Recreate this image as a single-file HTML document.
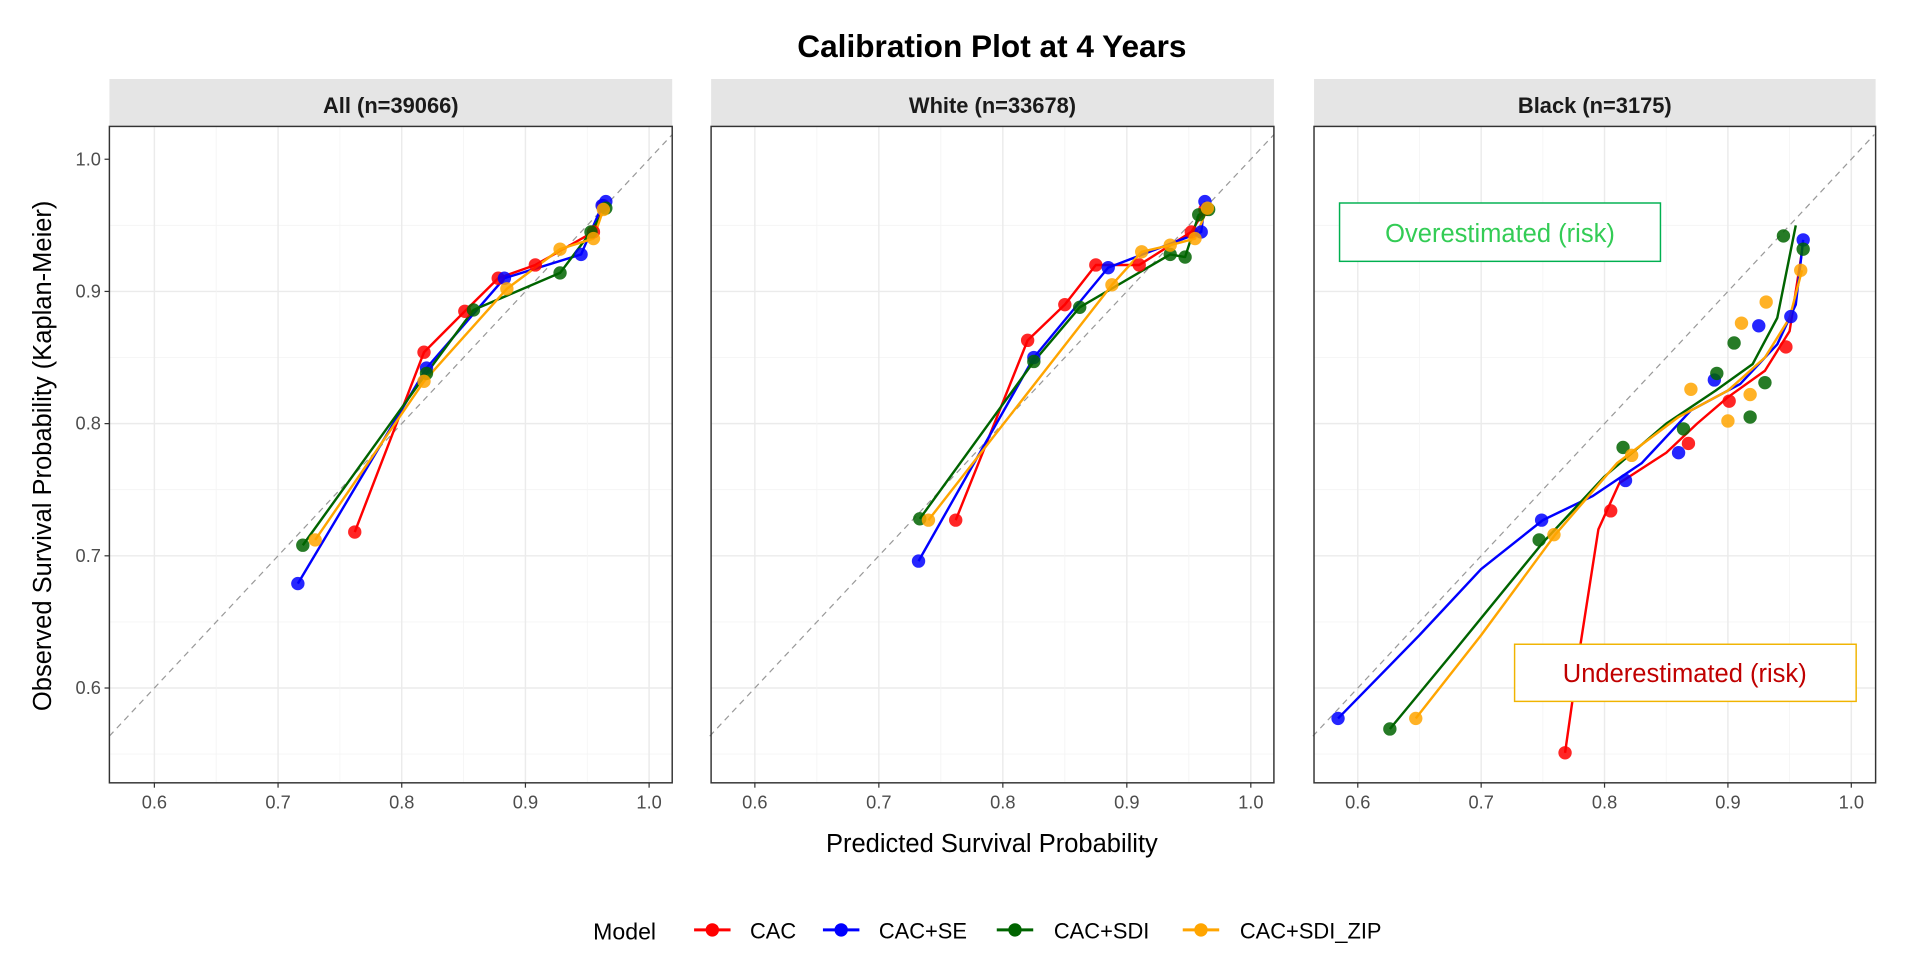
<!DOCTYPE html>
<html><head><meta charset="utf-8">
<style>
html,body{margin:0;padding:0;background:#fff;}
svg{display:block;font-family:"Liberation Sans",Arial,sans-serif;}
</style></head>
<body>
<svg id="c" width="1906" height="962" viewBox="0 0 1568 791.4" preserveAspectRatio="none" xmlns="http://www.w3.org/2000/svg">
<rect width="1568" height="792" fill="#fff"/>
<text x="816" y="47" text-anchor="middle" font-size="26" font-weight="bold" fill="#000">Calibration Plot at 4 Years</text>
<g id="panels"></g>
<text x="816" y="701" text-anchor="middle" font-size="21" fill="#000">Predicted Survival Probability</text>
<text transform="translate(42,375) rotate(-90)" text-anchor="middle" font-size="21" fill="#000">Observed Survival Probability (Kaplan-Meier)</text>
<g font-size="19" fill="#000">
<text x="488" y="773">Model</text>
<line x1="571" y1="765" x2="601" y2="765" stroke="#ff0000" stroke-width="2.5"/><circle cx="586" cy="765" r="5.5" fill="#ff0000"/>
<text x="617" y="772" font-size="18">CAC</text>
<line x1="677" y1="765" x2="707" y2="765" stroke="#0000ff" stroke-width="2.5"/><circle cx="692" cy="765" r="5.5" fill="#0000ff"/>
<text x="723" y="772" font-size="18">CAC+SE</text>
<line x1="820" y1="765" x2="850" y2="765" stroke="#006400" stroke-width="2.5"/><circle cx="835" cy="765" r="5.5" fill="#006400"/>
<text x="867" y="772" font-size="18">CAC+SDI</text>
<line x1="973" y1="765" x2="1003" y2="765" stroke="#ffa500" stroke-width="2.5"/><circle cx="988" cy="765" r="5.5" fill="#ffa500"/>
<text x="1020" y="772" font-size="18">CAC+SDI_ZIP</text>
</g>
</svg>
<script>
var NS="http://www.w3.org/2000/svg";
var G=document.getElementById("panels");
function el(t,a,p){var e=document.createElementNS(NS,t);for(var k in a)e.setAttribute(k,a[k]);(p||G).appendChild(e);return e;}
var panels=[
 {L:90,R:553,x06:127,x10:534,title:"All (n=39066)",yax:true,
  data:{
   "#ff0000":[[0.762,0.718],[0.818,0.854],[0.851,0.885],[0.878,0.910],[0.908,0.920],[0.955,0.945],[0.963,0.965]],
   "#0000ff":[[0.716,0.679],[0.82,0.842],[0.883,0.910],[0.945,0.928],[0.962,0.965],[0.965,0.968]],
   "#006400":[[0.72,0.708],[0.82,0.838],[0.858,0.886],[0.928,0.914],[0.953,0.945],[0.965,0.963]],
   "#ffa500":[[0.73,0.712],[0.818,0.832],[0.885,0.902],[0.928,0.932],[0.955,0.94],[0.963,0.962]]}},
 {L:585,R:1048,x06:621,x10:1029,title:"White (n=33678)",
  data:{
   "#ff0000":[[0.762,0.727],[0.82,0.863],[0.85,0.89],[0.875,0.92],[0.91,0.92],[0.952,0.945],[0.963,0.962]],
   "#0000ff":[[0.732,0.696],[0.825,0.85],[0.885,0.918],[0.96,0.945],[0.963,0.968]],
   "#006400":[[0.733,0.728],[0.825,0.847],[0.862,0.888],[0.935,0.928],[0.947,0.926],[0.958,0.958],[0.966,0.962]],
   "#ffa500":[[0.74,0.727],[0.888,0.905],[0.912,0.93],[0.935,0.935],[0.955,0.94],[0.965,0.963]]}},
 {L:1081,R:1543,x06:1117,x10:1523,title:"Black (n=3175)",ann:true,
  data:{
   "#ff0000":[[0.768,0.551],[0.805,0.734],[0.868,0.785],[0.901,0.817],[0.947,0.858]],
   "#0000ff":[[0.584,0.577],[0.749,0.727],[0.817,0.757],[0.860,0.778],[0.889,0.833],[0.925,0.874],[0.951,0.881],[0.961,0.939]],
   "#006400":[[0.626,0.569],[0.747,0.712],[0.815,0.782],[0.864,0.796],[0.891,0.838],[0.905,0.861],[0.918,0.805],[0.930,0.831],[0.945,0.942],[0.961,0.932]],
   "#ffa500":[[0.647,0.577],[0.759,0.716],[0.822,0.776],[0.870,0.826],[0.900,0.802],[0.911,0.876],[0.918,0.822],[0.931,0.892],[0.959,0.916]]},
  lines:{
   "#ff0000":[[0.768,0.551],[0.78,0.63],[0.795,0.72],[0.812,0.755],[0.85,0.778],[0.875,0.80],[0.90,0.82],[0.93,0.84],[0.95,0.87],[0.96,0.93]],
   "#0000ff":[[0.584,0.577],[0.65,0.64],[0.70,0.69],[0.75,0.727],[0.79,0.745],[0.83,0.77],[0.87,0.81],[0.91,0.83],[0.94,0.86],[0.955,0.89],[0.961,0.939]],
   "#006400":[[0.626,0.569],[0.68,0.63],[0.75,0.71],[0.80,0.76],[0.85,0.80],[0.89,0.825],[0.92,0.845],[0.94,0.88],[0.955,0.95]],
   "#ffa500":[[0.647,0.577],[0.70,0.64],[0.76,0.716],[0.81,0.77],[0.86,0.805],[0.90,0.825],[0.93,0.85],[0.95,0.88],[0.96,0.916]]}}
];
var T=104,B=644;
function Y(v){return 131+(1.0-v)*1087.5;}
panels.forEach(function(p){
 var sx=(p.x10-p.x06)/0.4;
 function X(v){return p.x06+(v-0.6)*sx;}
 el("rect",{x:p.L,y:65,width:p.R-p.L,height:39,fill:"#e5e5e5"});
 var t=el("text",{x:(p.L+p.R)/2,y:93,"text-anchor":"middle","font-size":18,"font-weight":"bold",fill:"#1a1a1a"});t.textContent=p.title;
 el("rect",{x:p.L,y:T,width:p.R-p.L,height:B-T,fill:"#fff"});
 var i,v;
 for(i=0;i<9;i++){v=0.55+i*0.05;var yy=Y(v);if(yy>T&&yy<B)el("line",{x1:p.L,x2:p.R,y1:yy,y2:yy,stroke:i%2?"#ebebeb":"#f4f4f4","stroke-width":i%2?1.2:0.7});}
 for(i=0;i<10;i++){v=0.55+i*0.05;var xx=X(v);if(xx>p.L&&xx<p.R)el("line",{y1:T,y2:B,x1:xx,x2:xx,stroke:i%2?"#ebebeb":"#f4f4f4","stroke-width":i%2?1.2:0.7});}
 var x0=0.5636,x1=1.0187;
 var ya=Math.max(x0,0.5283),yb=Math.min(x1,1.0248);
 el("line",{x1:X(ya),y1:Y(ya),x2:X(yb),y2:Y(yb),stroke:"#999","stroke-width":1,"stroke-dasharray":"5,4"});
 for(var c in p.data){
   var pts=(p.lines&&p.lines[c])?p.lines[c]:p.data[c];
   el("polyline",{points:pts.map(function(q){return X(q[0])+","+Y(q[1]);}).join(" "),fill:"none",stroke:c,"stroke-width":2,"stroke-linejoin":"round"});
 }
 for(var c2 in p.data){
   p.data[c2].forEach(function(q){el("circle",{cx:X(q[0]),cy:Y(q[1]),r:5.5,fill:c2,"fill-opacity":0.85});});
 }
 el("rect",{x:p.L,y:T,width:p.R-p.L,height:B-T,fill:"none",stroke:"#333","stroke-width":1.2});
 for(i=0;i<5;i++){v=0.6+i*0.1;var xt=X(v);
   el("line",{x1:xt,x2:xt,y1:B,y2:B+4,stroke:"#333"});
   var tx=el("text",{x:xt,y:B+21,"text-anchor":"middle","font-size":15,fill:"#4d4d4d"});tx.textContent=v.toFixed(1);}
 if(p.yax){for(i=0;i<5;i++){v=0.6+i*0.1;var yt=Y(v);
   el("line",{x1:p.L-4,x2:p.L,y1:yt,y2:yt,stroke:"#333"});
   var ty=el("text",{x:p.L-7,y:yt+5,"text-anchor":"end","font-size":15,fill:"#4d4d4d"});ty.textContent=v.toFixed(1);}}
 if(p.ann){
   el("rect",{x:1102,y:167,width:264,height:48,fill:"#fff",stroke:"#00b050","stroke-width":1.2});
   var a=el("text",{x:1234,y:199,"text-anchor":"middle","font-size":21,fill:"#33cc55"});a.textContent="Overestimated (risk)";
   el("rect",{x:1246,y:530,width:281,height:47,fill:"#fff",stroke:"#f0b400","stroke-width":1.2});
   var b=el("text",{x:1386,y:561,"text-anchor":"middle","font-size":21,fill:"#c00000"});b.textContent="Underestimated (risk)";
 }
});
</script>
</body></html>
